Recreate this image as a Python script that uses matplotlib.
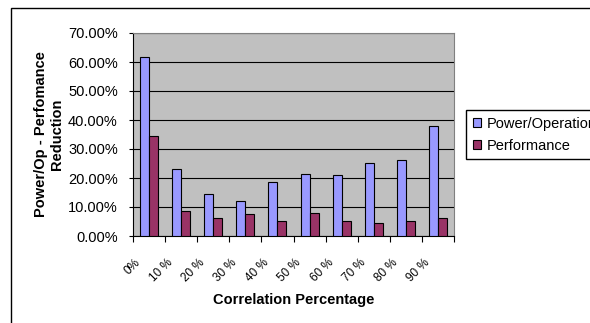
import matplotlib.pyplot as plt
import matplotlib.patches as mpatches
import matplotlib.transforms as mtrans
import numpy as np

plt.rcParams['font.family'] = ['Liberation Sans', 'DejaVu Sans']

categories = ['0%', '10 %', '20 %', '30 %', '40 %', '50 %', '60 %', '70 %', '80 %', '90 %']
power_op = [61.8, 23.1, 14.5, 12.1, 18.7, 21.4, 21.1, 25.3, 26.1, 37.8]
performance = [34.4, 8.6, 6.3, 7.5, 5.1, 7.9, 5.1, 4.6, 5.1, 6.3]

fig = plt.figure(figsize=(5.9, 3.23), dpi=100)
ax = fig.add_axes([133/590, 1-236/323, (454-133)/590, (236-33)/323])

x = np.arange(len(categories)) + 0.5
w = 0.28
ax.bar(x - w/2, power_op, w, color='#9999FF', edgecolor='black', linewidth=0.8,
       label='Power/Operation', zorder=3)
ax.bar(x + w/2, performance, w, color='#993366', edgecolor='black', linewidth=0.8,
       label='Performance', zorder=3)

ax.set_facecolor('#C0C0C0')
ax.set_xlim(0, len(categories))
ax.set_ylim(0, 70)
ax.set_yticks(np.arange(0, 71, 10))
ax.set_yticklabels(['%.2f%%' % v for v in np.arange(0, 71, 10)], fontsize=10.5)
ax.yaxis.grid(True, color='black', linewidth=0.8, zorder=1)
ax.set_axisbelow(True)

# ticks at category boundaries, labels at centers
ax.set_xticks(np.arange(0, len(categories) + 1))
ax.set_xticklabels([])
ax.set_xticks(x, minor=True)
ax.set_xticklabels(categories, minor=True, rotation=45, ha='right', fontsize=8.5)
ax.tick_params(axis='x', which='minor', length=0, pad=15)
ax.tick_params(axis='x', which='major', direction='out', length=4, width=0.8)
ax.tick_params(axis='y', direction='out', length=3, width=0.8, pad=8)
shift = mtrans.ScaledTranslation(-6/100, 0, fig.dpi_scale_trans)
for lbl in ax.get_xticklabels(minor=True):
    lbl.set_transform(lbl.get_transform() + shift)

for side in ['top', 'right']:
    ax.spines[side].set_color('#808080')
ax.spines['left'].set_color('black')
ax.spines['bottom'].set_color('black')

ax.set_ylabel('Power/Op - Perfomance\nReduction', fontsize=10.5, fontweight='bold', labelpad=3)
ax.set_xlabel('Correlation Percentage', fontsize=10.5, fontweight='bold', labelpad=6)

fig.legend(loc='upper left', bbox_to_anchor=(466/590, 1-110/323), fontsize=10.5,
           frameon=True, fancybox=False, edgecolor='black', framealpha=1,
           handlelength=0.55, handleheight=0.55, handletextpad=0.4,
           borderpad=0.45, labelspacing=0.55, borderaxespad=0)

# outer chart border
fig.add_artist(mpatches.Rectangle((11/590, -0.5), 2.0, 1.5 - 8/323,
                                  transform=fig.transFigure, fill=False,
                                  edgecolor='black', linewidth=1))

fig.savefig('out.png', dpi=100)
